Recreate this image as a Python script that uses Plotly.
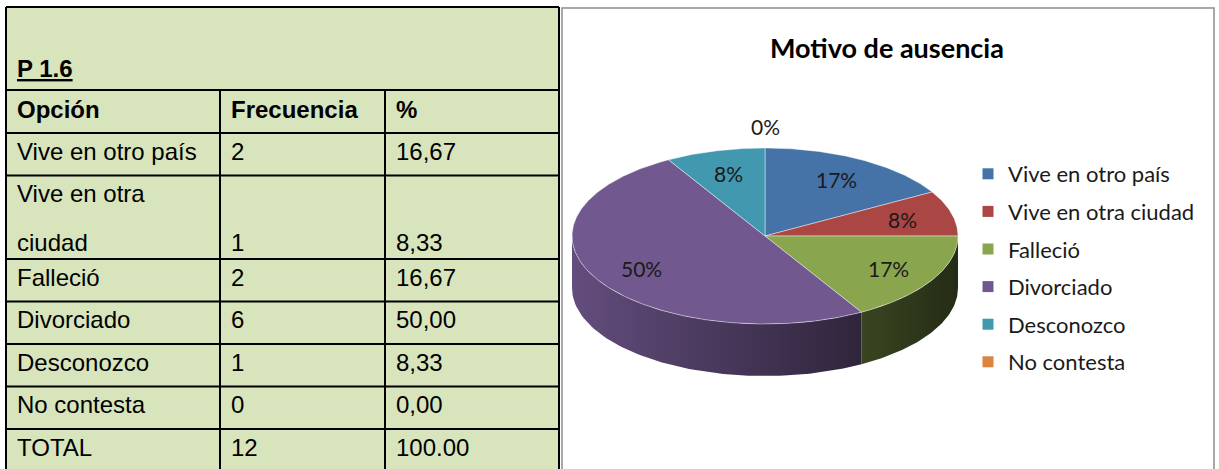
import textwrap
import numpy as np
import plotly.graph_objects as go

# ---------------- data ----------------
table_title = "P 1.6"
col_headers = ["Opción", "Frecuencia", "%"]
opciones = ["Vive en otro país", "Vive en otra ciudad", "Falleció",
            "Divorciado", "Desconozco", "No contesta"]
frecuencia = [2, 1, 2, 6, 1, 0]
porcentaje = ["16,67", "8,33", "16,67", "50,00", "8,33", "0,00"]
total_row = ["TOTAL", "12", "100.00"]
chart_title = "Motivo de ausencia"
slice_colors = ["#4572A7", "#AA4643", "#89A54E", "#71588F", "#4198AF", "#DB843D"]

# ---------------- layout constants ----------------
W, H = 1219, 469
TABLE_FONT = "Liberation Sans, Arial, sans-serif"
CHART_FONT = "Lato, Calibri, sans-serif"
GREEN_BG = "#D8E4BC"
COL_X = [6, 220, 385, 559]
TXT_PAD = 9
ROW_H = 42.5
LINE_PITCH = 49

# pie geometry (pixel space)
CX, CY, RX, RY, DEPTH = 765, 236, 193, 88, 52
LABEL_R = 0.74

fig = go.Figure()
shapes = []
annotations = []

# ---------------- table ----------------
TOP = 7
shapes.append(dict(type="rect", xref="x", yref="y", x0=COL_X[0], x1=COL_X[-1], y0=TOP, y1=H + 5,
                   fillcolor=GREEN_BG, line=dict(width=0), layer="below"))

def hline(y, x0=COL_X[0], x1=COL_X[-1]):
    shapes.append(dict(type="line", xref="x", yref="y", x0=x0, x1=x1, y0=y, y1=y,
                       line=dict(color="black", width=2)))

def vline(x, y0, y1):
    shapes.append(dict(type="line", xref="x", yref="y", x0=x, x1=x, y0=y0, y1=y1,
                       line=dict(color="black", width=2)))

def cell_text(x, y, txt, bold=False, underline=False):
    t = txt
    if underline:
        t = "<u>" + t + "</u>"
    if bold:
        t = "<b>" + t + "</b>"
    annotations.append(dict(x=x, y=y, xref="x", yref="y", text=t, showarrow=False,
                            xanchor="left", yanchor="middle",
                            font=dict(family=TABLE_FONT, size=24, color="black")))

title_bottom = 90
hline(TOP)
hline(title_bottom)
cell_text(COL_X[0] + TXT_PAD, 68, table_title, bold=True, underline=True)

y = title_bottom
header_bottom = y + 43
for j, h in enumerate(col_headers):
    cell_text(COL_X[j] + TXT_PAD, y + 19, h, bold=True)
hline(header_bottom)
y = header_bottom

rows = [(o, str(f), p) for o, f, p in zip(opciones, frecuencia, porcentaje)]
for opt, fr, pc in rows:
    lines = textwrap.wrap(opt, 17)
    h = ROW_H + (len(lines) - 1) * (LINE_PITCH - 8)
    for k, ln in enumerate(lines):
        cell_text(COL_X[0] + TXT_PAD, y + 18 + k * LINE_PITCH, ln)
    last_y = y + 18 + (len(lines) - 1) * LINE_PITCH
    cell_text(COL_X[1] + TXT_PAD, last_y, fr)
    cell_text(COL_X[2] + TXT_PAD, last_y, pc)
    y += h
    hline(y)

for j, t in enumerate(total_row):
    cell_text(COL_X[j] + TXT_PAD, y + 18, t)

vline(COL_X[0], TOP, H + 5)
vline(COL_X[-1], TOP, H + 5)
vline(COL_X[1], title_bottom, H + 5)
vline(COL_X[2], title_bottom, H + 5)

# ---------------- chart box ----------------
shapes.append(dict(type="rect", xref="x", yref="y", x0=562, x1=1214, y0=8, y1=H + 10,
                   fillcolor="white", line=dict(color="#8C8C8C", width=1.5), layer="below"))
annotations.append(dict(x=887, y=47, xref="x", yref="y", text="<b>" + chart_title + "</b>",
                        showarrow=False, xanchor="center", yanchor="middle",
                        font=dict(family=CHART_FONT, size=27, color="black")))

# ---------------- 3D pie ----------------
def hex_rgb(c):
    c = c.lstrip("#")
    return tuple(int(c[i:i + 2], 16) for i in (0, 2, 4))

def shade(c, f):
    r, g, b = hex_rgb(c)
    return "rgb(%d,%d,%d)" % (r * f, g * f, b * f)

def rim(theta_deg, dy=0.0):
    t = np.radians(theta_deg)
    return CX + RX * np.sin(t), CY - RY * np.cos(t) + dy

total = sum(frecuencia)
angles = np.concatenate([[0], np.cumsum(frecuencia) / total * 360.0])

# side faces (front half only, 90..270 deg clockwise from top)
for i, c in enumerate(slice_colors):
    a, b = angles[i], angles[i + 1]
    s0, s1 = max(a, 90), min(b, 270)
    if s1 <= s0:
        continue
    th = np.linspace(s0, s1, 80)
    xt, yt = rim(th)
    xb, yb = rim(th[::-1], DEPTH)
    xs = np.concatenate([xt, xb, xt[:1]])
    ys = np.concatenate([yt, yb, yt[:1]])
    fig.add_trace(go.Scatter(
        x=xs, y=ys, mode="lines", fill="toself", line=dict(width=0),
        fillgradient=dict(type="horizontal", start=CX - RX, stop=CX + RX,
                          colorscale=[[0, shade(c, 0.88)], [1, shade(c, 0.27)]]),
        hoverinfo="skip", showlegend=False))

# top faces
for i, c in enumerate(slice_colors):
    a, b = angles[i], angles[i + 1]
    if b - a <= 0:
        continue
    th = np.linspace(a, b, max(4, int((b - a) * 2)))
    xr, yr = rim(th)
    xs = np.concatenate([[CX], xr, [CX]])
    ys = np.concatenate([[CY], yr, [CY]])
    fig.add_trace(go.Scatter(
        x=xs, y=ys, mode="lines", fill="toself", fillcolor=c,
        line=dict(color="rgba(255,255,255,0.55)", width=0.8),
        hoverinfo="skip", showlegend=False))

# data labels
for i, v in enumerate(frecuencia):
    mid = (angles[i] + angles[i + 1]) / 2.0
    pct = "%d%%" % round(v / total * 100)
    t = np.radians(mid)
    r = LABEL_R if v > 0 else 1.25
    lx = CX + RX * np.sin(t) * r
    ly = CY - RY * np.cos(t) * r
    annotations.append(dict(x=lx, y=ly, xref="x", yref="y", text=pct, showarrow=False,
                            xanchor="center", yanchor="middle",
                            font=dict(family=CHART_FONT, size=21, color="#1A1A1A")))

# legend entries
for lab, c in zip(opciones, slice_colors):
    fig.add_trace(go.Scatter(
        x=[None], y=[None], mode="markers", name=lab, legendgroup=lab,
        marker=dict(symbol="square", size=11, color=c, line=dict(width=0))))

fig.update_layout(
    width=W, height=H, margin=dict(l=0, r=0, t=0, b=0),
    paper_bgcolor="white", plot_bgcolor="white",
    xaxis=dict(range=[0, W], visible=False, fixedrange=True),
    yaxis=dict(range=[H, 0], visible=False, fixedrange=True),
    shapes=shapes, annotations=annotations,
    showlegend=True,
    legend=dict(x=968 / W, y=1 - 153 / H, xanchor="left", yanchor="top",
                bgcolor="rgba(0,0,0,0)", tracegroupgap=6, itemwidth=30,
                font=dict(family=CHART_FONT, size=22, color="#1A1A1A")),
)

fig.write_html("out.html", config={"displayModeBar": False},
               post_script="document.body.style.margin='0';")
